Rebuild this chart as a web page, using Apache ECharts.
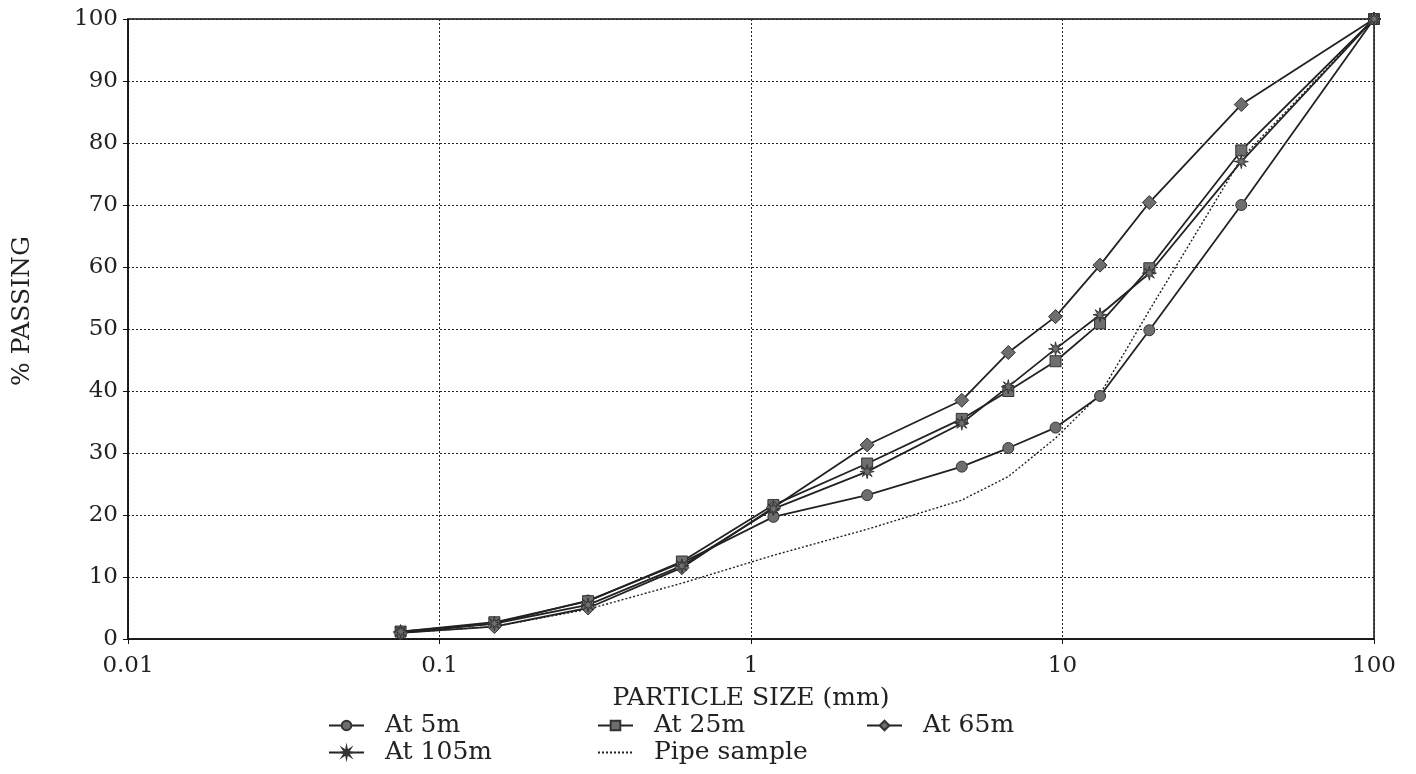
<!DOCTYPE html>
<html>
<head>
<meta charset="utf-8">
<script src="https://cdn.jsdelivr.net/npm/echarts@6/dist/echarts.min.js"></script>
<style>html,body{margin:0;padding:0;background:#fff}#c{width:1416px;height:774px}</style>
</head>
<body>
<div id="c"></div>
<script>
var sizes = [0.075, 0.15, 0.3, 0.6, 1.18, 2.36, 4.75, 6.7, 9.5, 13.2, 19, 37.5, 100];
var at5m   = [1.0, 2.5, 6.2, 12.3, 19.7, 23.2, 27.8, 30.8, 34.1, 39.2, 49.8, 70.0, 100];
var at25m  = [1.2, 2.7, 6.1, 12.5, 21.6, 28.3, 35.5, 40.0, 44.8, 50.9, 59.8, 78.8, 100];
var at65m  = [1.0, 2.0, 5.0, 11.5, 21.2, 31.3, 38.5, 46.2, 52.0, 60.3, 70.4, 86.2, 100];
var at105m = [1.2, 2.5, 5.5, 11.8, 21.0, 27.0, 34.8, 40.7, 46.8, 52.3, 59.0, 77.0, 100];
var pipe   = [1.0, 2.0, 4.8, 9.0, 13.5, 17.7, 22.4, 26.2, 32.4, 39.5, 53.0, 77.5, 100];
var seriesNames = ['At 5m', 'At 25m', 'At 65m', 'At 105m', 'Pipe sample'];
var xTickLabels = ['0.01', '0.1', '1', '10', '100'];
var yTitle = '% PASSING';
var xTitle = 'PARTICLE SIZE (mm)';

var FONT = 'DejaVu Serif';
var TXT = '#222';
var LINE = '#222';
var MARK = '#6e6e6e';
var starPath = 'path://M20,10L13.23,11.34L17.07,17.07L11.34,13.23L10,20L8.66,13.23L2.93,17.07L6.77,11.34L0,10L6.77,8.66L2.93,2.93L8.66,6.77L10,0L11.34,6.77L17.07,2.93L13.23,8.66Z';

function pairs(ys) { return sizes.map(function (x, i) { return [x, ys[i]]; }); }

function markerSeries(name, ys, symbol, size) {
  return {
    name: name, type: 'line', data: pairs(ys),
    symbol: symbol, symbolSize: size, showSymbol: true,
    lineStyle: { color: LINE, width: 1.8 },
    itemStyle: { color: MARK, borderColor: '#333', borderWidth: 1 },
    emphasis: { disabled: true }, animation: false, z: 3
  };
}

function legendAt(name, left, top, hideSymbol) {
  var lg = {
    data: [name], left: left, top: top, padding: 0,
    itemWidth: 35, itemHeight: 12,
    textStyle: { fontFamily: FONT, fontSize: 25, color: TXT, padding: [0, 0, 0, 16] },
    selectedMode: false
  };
  if (hideSymbol) {
    lg.itemStyle = { color: 'rgba(0,0,0,0)', borderWidth: 0, borderColor: 'rgba(0,0,0,0)' };
  }
  return lg;
}

var chart = echarts.init(document.getElementById('c'));
chart.setOption({
  backgroundColor: '#fff',
  animation: false,
  grid: { left: 128, right: 42, top: 19, bottom: 135, show: true, borderColor: '#111', borderWidth: 1.5, backgroundColor: 'transparent' },
  xAxis: {
    type: 'log', logBase: 10, min: 0.01, max: 100,
    name: xTitle, nameLocation: 'middle', nameGap: 47,
    nameTextStyle: { fontFamily: FONT, fontSize: 25, color: TXT },
    axisLine: { show: true, lineStyle: { color: '#111', width: 1.5 } },
    axisTick: { show: true, length: 5, lineStyle: { color: '#111' } },
    minorTick: { show: false },
    axisLabel: {
      margin: 16, fontFamily: FONT, fontSize: 23, color: TXT,
      formatter: function (v) {
        var idx = Math.round(Math.log10(v)) + 2;
        return xTickLabels[idx] !== undefined ? xTickLabels[idx] : String(v);
      }
    },
    splitLine: { show: true, lineStyle: { color: '#222', width: 1, type: [2, 2] } }
  },
  yAxis: {
    type: 'value', min: 0, max: 100, interval: 10,
    axisLine: { show: true, lineStyle: { color: '#111', width: 1.5 } },
    axisTick: { show: true, length: 5, lineStyle: { color: '#111' } },
    axisLabel: { margin: 10, fontFamily: FONT, fontSize: 23, color: TXT },
    splitLine: { show: true, lineStyle: { color: '#222', width: 1, type: [2, 2] } }
  },
  graphic: [{
    type: 'text', x: 22, y: 311, rotation: Math.PI / 2,
    style: { text: yTitle, font: '25px "DejaVu Serif"', fill: TXT, align: 'center', verticalAlign: 'middle' }
  }],
  legend: [
    legendAt(seriesNames[0], 328, 713),
    legendAt(seriesNames[1], 597, 713),
    legendAt(seriesNames[2], 866, 713),
    legendAt(seriesNames[3], 328, 740),
    legendAt(seriesNames[4], 597, 740, true)
  ],
  series: [
    markerSeries(seriesNames[0], at5m, 'circle', 11),
    markerSeries(seriesNames[1], at25m, 'rect', 11),
    markerSeries(seriesNames[2], at65m, 'diamond', 14),
    markerSeries(seriesNames[3], at105m, starPath, 14),
    {
      name: seriesNames[4], type: 'line', data: pairs(pipe),
      symbol: 'none', showSymbol: false,
      lineStyle: { color: '#222', width: 1.4, type: [2, 2] },
      itemStyle: { color: '#222' },
      emphasis: { disabled: true }, animation: false, z: 2
    }
  ]
});
</script>
</body>
</html>
